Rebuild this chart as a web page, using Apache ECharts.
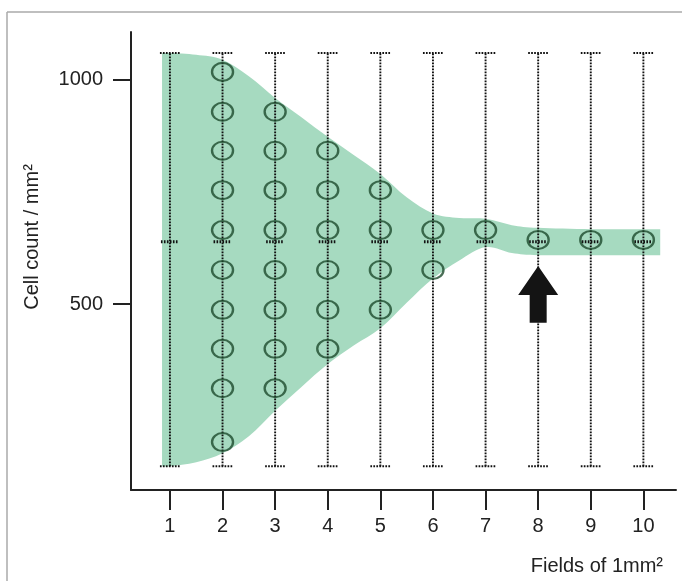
<!DOCTYPE html>
<html><head><meta charset="utf-8">
<script src="https://cdn.jsdelivr.net/npm/echarts@6/dist/echarts.min.js"></script>
<style>html,body{margin:0;padding:0;background:#fff}#c{width:682px;height:581px}</style>
</head><body><div id="c"></div>
<script>
// ---- data ----
const fields = [1, 2, 3, 4, 5, 6, 7, 8, 9, 10];
const yTickValues = [500, 1000];
const errLow  = [138, 138, 138, 138, 138, 138, 138, 138, 138, 138];
const errHigh = [1060, 1060, 1060, 1060, 1060, 1060, 1060, 1060, 1060, 1060];
const errMid  = [639, 639, 639, 639, 639, 639, 639, 639, 639, 639];

const bandX      = [0.85, 1, 1.5, 2, 2.5, 3, 3.5, 4, 4.5, 5, 5.5, 6, 6.5, 7, 7.5, 8, 9, 10, 10.32];
const bandTop    = [1060, 1060, 1056, 1045, 1008, 960, 917, 873, 832, 790, 738, 702, 692, 690, 676, 670, 667, 667, 667];
const bandBottom = [138, 138, 147, 167, 205, 262, 315, 366, 408, 446, 503, 557, 597, 627, 614, 609, 609, 609, 609];

const circlesField1  = [];
const circlesField2  = [1018, 929, 842, 754, 665, 576, 487, 400, 312, 192];
const circlesField3  = [929, 842, 754, 665, 576, 487, 400, 312];
const circlesField4  = [842, 754, 665, 576, 487, 400];
const circlesField5  = [754, 665, 576, 487];
const circlesField6  = [665, 576];
const circlesField7  = [665];
const circlesField8  = [643];
const circlesField9  = [643];
const circlesField10 = [643];
const circlesByField = [circlesField1, circlesField2, circlesField3, circlesField4, circlesField5,
  circlesField6, circlesField7, circlesField8, circlesField9, circlesField10];

const arrowField = 8;
const arrowTip = 585;
const arrowEnd = 458;

// ---- build ----
const FONT = '"Liberation Sans", Arial, sans-serif';
const errData = fields.map((f, i) => [f, errLow[i], errHigh[i], errMid[i]]);
const circleData = [];
circlesByField.forEach((vals, i) => vals.forEach(v => circleData.push([fields[i], v])));
const bandData = bandX.map((x, i) => [x, bandTop[i], bandBottom[i]]);

function smoothSegs(pts, t) {
  // Catmull-Rom -> cubic bezier, returns path commands (without initial M)
  let d = '';
  for (let i = 0; i < pts.length - 1; i++) {
    const p0 = pts[i - 1] || pts[i], p1 = pts[i], p2 = pts[i + 1], p3 = pts[i + 2] || pts[i + 1];
    const c1 = [p1[0] + (p2[0] - p0[0]) * t / 6, p1[1] + (p2[1] - p0[1]) * t / 6];
    const c2 = [p2[0] - (p3[0] - p1[0]) * t / 6, p2[1] - (p3[1] - p1[1]) * t / 6];
    d += ' C' + c1[0] + ' ' + c1[1] + ' ' + c2[0] + ' ' + c2[1] + ' ' + p2[0] + ' ' + p2[1];
  }
  return d;
}

const chart = echarts.init(document.getElementById('c'), null, {renderer: 'canvas'});
const dotted = {stroke: '#111', lineWidth: 1.9, lineDash: [1.7, 1.3], fill: null};

chart.setOption({
  animation: false,
  backgroundColor: '#fff',
  grid: {left: 131, right: 6, top: 32, bottom: 91},
  xAxis: {
    type: 'value', min: 0.26, max: 10.62,
    axisLine: {lineStyle: {color: '#222', width: 2}},
    axisTick: {show: true, length: 20, lineStyle: {color: '#222', width: 2}, customValues: fields},
    axisLabel: {fontFamily: FONT, fontSize: 20, color: '#222', margin: 26, customValues: fields},
    splitLine: {show: false}
  },
  yAxis: {
    type: 'value', min: 85, max: 1107,
    axisLine: {show: true, lineStyle: {color: '#222', width: 2}},
    axisTick: {show: true, length: 18, lineStyle: {color: '#222', width: 2}, customValues: yTickValues},
    axisLabel: {fontFamily: FONT, fontSize: 20, color: '#222', margin: 28, customValues: yTickValues,
      formatter: v => String(v)},
    splitLine: {show: false}
  },
  graphic: [
    {type: 'line', shape: {x1: 7, y1: 12, x2: 682, y2: 12}, style: {stroke: '#aaa', lineWidth: 1.5}},
    {type: 'line', shape: {x1: 7, y1: 12, x2: 7, y2: 581}, style: {stroke: '#aaa', lineWidth: 1.5}},
    {type: 'text', x: 32, y: 237, rotation: Math.PI / 2,
      style: {text: 'Cell count / mm²', font: '20px ' + FONT, fill: '#222', align: 'center', verticalAlign: 'middle'}},
    {type: 'text', x: 663, y: 566,
      style: {text: 'Fields of 1mm²', font: '20px ' + FONT, fill: '#222', align: 'right', verticalAlign: 'middle'}}
  ],
  series: [
    {type: 'custom', data: [0], z: 1,
      renderItem: function (params, api) {
        const top = bandData.map(r => api.coord([r[0], r[1]]));
        const bot = bandData.map(r => api.coord([r[0], r[2]])).reverse();
        let d = 'M' + top[0][0] + ' ' + top[0][1] + smoothSegs(top, 1);
        d += ' L' + bot[0][0] + ' ' + bot[0][1] + smoothSegs(bot, 1) + ' Z';
        return {type: 'path', shape: {pathData: d}, style: {fill: '#a6dac0'}};
      }
    },
    {type: 'custom', data: errData, z: 3,
      renderItem: function (params, api) {
        const x = api.value(0);
        const pLow = api.coord([x, api.value(1)]);
        const pHigh = api.coord([x, api.value(2)]);
        const pMid = api.coord([x, api.value(3)]);
        const cap = 10;
        return {type: 'group', children: [
          {type: 'line', shape: {x1: pLow[0], y1: pLow[1], x2: pHigh[0], y2: pHigh[1]}, style: dotted},
          {type: 'line', shape: {x1: pHigh[0] - cap, y1: pHigh[1], x2: pHigh[0] + cap, y2: pHigh[1]}, style: dotted},
          {type: 'line', shape: {x1: pLow[0] - cap, y1: pLow[1], x2: pLow[0] + cap, y2: pLow[1]}, style: dotted},
          {type: 'line', shape: {x1: pMid[0] - 9, y1: pMid[1], x2: pMid[0] + 9, y2: pMid[1]},
            style: {stroke: '#111', lineWidth: 3, lineDash: [1.6, 1.4]}}
        ]};
      }
    },
    {type: 'scatter', data: circleData, z: 4, symbol: 'circle', symbolSize: [21, 18],
      itemStyle: {color: 'rgba(0,0,0,0)', borderColor: '#1d4a2c', borderWidth: 2.2}},
    {type: 'custom', data: [[arrowField, arrowTip, arrowEnd]], z: 5,
      renderItem: function (params, api) {
        const tip = api.coord([api.value(0), api.value(1)]);
        const end = api.coord([api.value(0), api.value(2)]);
        const x = tip[0], hy = tip[1] + 29, hw = 20, sw = 8.5;
        return {type: 'polygon', shape: {points: [
          [x, tip[1]], [x + hw, hy], [x + sw, hy], [x + sw, end[1]],
          [x - sw, end[1]], [x - sw, hy], [x - hw, hy]
        ]}, style: {fill: '#141414'}};
      }
    }
  ]
});
</script>
</body></html>
